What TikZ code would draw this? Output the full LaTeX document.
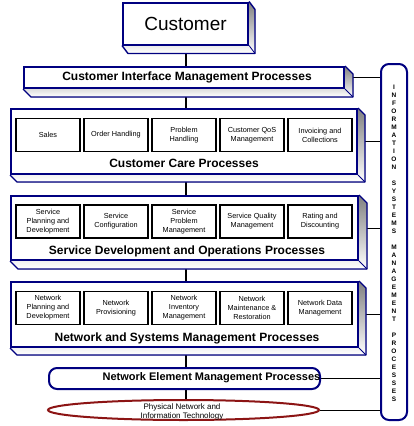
\documentclass[tikz,border=0pt]{standalone}
\usepackage{fontspec}
\setmainfont{Liberation Sans}
\usetikzlibrary{calc,backgrounds,shapes.geometric}
\definecolor{navy}{RGB}{0,0,128}
\definecolor{shade}{RGB}{130,130,150}
\definecolor{ered}{RGB}{140,20,20}
\newcommand\boxshade[3]{%
  \fill[shade] (#1.north east) -- ++(#2,#3) -- ($(#1.south east)+(#2,#3)$) -- ($(#1.south west)+(#2,#3)$) -- (#1.south west) -- (#1.south east) -- cycle;
  \draw[navy,line width=1.4pt,line join=round] (#1.north east) -- ++(#2,#3) -- ($(#1.south east)+(#2,#3)$) -- ($(#1.south west)+(#2,#3)$) -- (#1.south west);
  \draw[navy,line width=0.8pt] (#1.south east) -- ++(#2,#3);
}
\begin{document}
\begin{tikzpicture}[x=1pt,y=-1pt,
  bigbox/.style={draw=navy,line width=2pt,fill=white,inner sep=0pt,anchor=north west},
  subbox/.style={draw=black,line width=1.6pt,fill=white,minimum width=64pt,minimum height=33pt,inner sep=0pt,align=center,font=\fontsize{7.3}{9}\selectfont},
  titletext/.style={font=\fontsize{12}{14}\selectfont\bfseries,inner sep=0pt},
  spineline/.style={line width=1.8pt,black},
  busline/.style={line width=0.9pt,black}
]
\useasboundingbox (0,0) rectangle (413,426);
% customer
\node[bigbox,minimum width=125pt,minimum height=42pt,font=\fontsize{19}{22}\selectfont] (cust) at (122,1.5) {Customer};
% CIM
\node[bigbox,minimum width=320pt,minimum height=21pt] (cim) at (23,66) {};
\node[titletext] (cimt) at (187,77) {Customer Interface Management Processes};
% Customer care
\node[bigbox,minimum width=346pt,minimum height=65pt] (cc) at (10,108) {};
\node[titletext] (cct) at (184,163) {Customer Care Processes};
\node[subbox] (cc1) at (48,135) {Sales};
\node[subbox] (cc2) at (116,135) {Order Handling};
\node[subbox] (cc3) at (184,135) {Problem\\Handling};
\node[subbox] (cc4) at (252,135) {Customer QoS\\Management};
\node[subbox] (cc5) at (320,135) {Invoicing and\\Collections};
% Service
\node[bigbox,minimum width=347pt,minimum height=64pt] (sd) at (10,195) {};
\node[titletext] (sdt) at (187,251) {Service Development and Operations Processes};
\node[subbox] (sd1) at (48,221.5) {Service\\Planning and\\Development};
\node[subbox] (sd2) at (116,221.5) {Service\\Configuration};
\node[subbox] (sd3) at (184,221.5) {Service\\Problem\\Management};
\node[subbox] (sd4) at (252,221.5) {Service Quality\\Management};
\node[subbox] (sd5) at (320,221.5) {Rating and\\Discounting};
% Network
\node[bigbox,minimum width=347pt,minimum height=65pt] (ns) at (10,281) {};
\node[titletext] (nst) at (187,338) {Network and Systems Management Processes};
\node[subbox] (ns1) at (48,308) {Network\\Planning and\\Development};
\node[subbox] (ns2) at (116,308) {Network\\Provisioning};
\node[subbox] (ns3) at (184,308) {Network\\Inventory\\Management};
\node[subbox] (ns4) at (252,308) {Network\\Maintenance \&\\Restoration};
\node[subbox] (ns5) at (320,308) {Network Data\\Management};
% NEM
\node[bigbox,rounded corners=8pt,minimum width=271pt,minimum height=21pt] (nem) at (48,367) {};
\node[titletext,font=\fontsize{11}{13}\selectfont\bfseries] (nemt) at (211.5,378) {Network Element Management Processes};
% ellipse
\node[draw=ered,line width=2pt,ellipse,minimum width=271pt,minimum height=20pt,inner sep=0pt] (phys) at (183.5,410) {};
\node[align=center,inner sep=0pt,font=\fontsize{8}{9}\selectfont] (physt) at (182,411.5) {Physical Network and\\Information Technology};
% bar
\node[draw=navy,line width=2pt,fill=white,rounded corners=8pt,minimum width=26pt,minimum height=356pt,inner sep=0pt] (bar) at (394,242) {};
\node[align=center,inner sep=0pt,font=\fontsize{6.5}{8}\selectfont\bfseries] (bart) at (394,243) {I\\N\\F\\O\\R\\M\\A\\T\\I\\O\\N\\\mbox{}\\S\\Y\\S\\T\\E\\M\\S\\\mbox{}\\M\\A\\N\\A\\G\\E\\M\\E\\N\\T\\\mbox{}\\P\\R\\O\\C\\E\\S\\S\\E\\S};
\coordinate (spine) at (186,0);
\begin{pgfonlayer}{background}
  \draw[spineline] (cust.south -| spine) -- (cim.north -| spine);
  \draw[spineline] (cim.south -| spine) -- (cc.north -| spine);
  \draw[spineline] (cc.south -| spine) -- (sd.north -| spine);
  \draw[spineline] (sd.south -| spine) -- (ns.north -| spine);
  \draw[spineline] (ns.south -| spine) -- (nem.north -| spine);
  \draw[spineline] (nem.south -| spine) -- (phys.north -| spine);
  \draw[busline] (cim.east) -- (cim.east -| bar.west);
  \draw[busline] (cc.east) -- (cc.east -| bar.west);
  \draw[busline] (sd.east) -- (sd.east -| bar.west);
  \draw[busline] (ns.east) -- (ns.east -| bar.west);
  \draw[busline] (nem.east) -- (nem.east -| bar.west);
  \draw[busline] (phys.east) -- (phys.east -| bar.west);
  \boxshade{cust}{6}{8}
  \boxshade{cim}{8}{8}
  \boxshade{cc}{7}{7}
  \boxshade{sd}{8}{8}
  \boxshade{ns}{7}{7}
\end{pgfonlayer}
\end{tikzpicture}
\end{document}
